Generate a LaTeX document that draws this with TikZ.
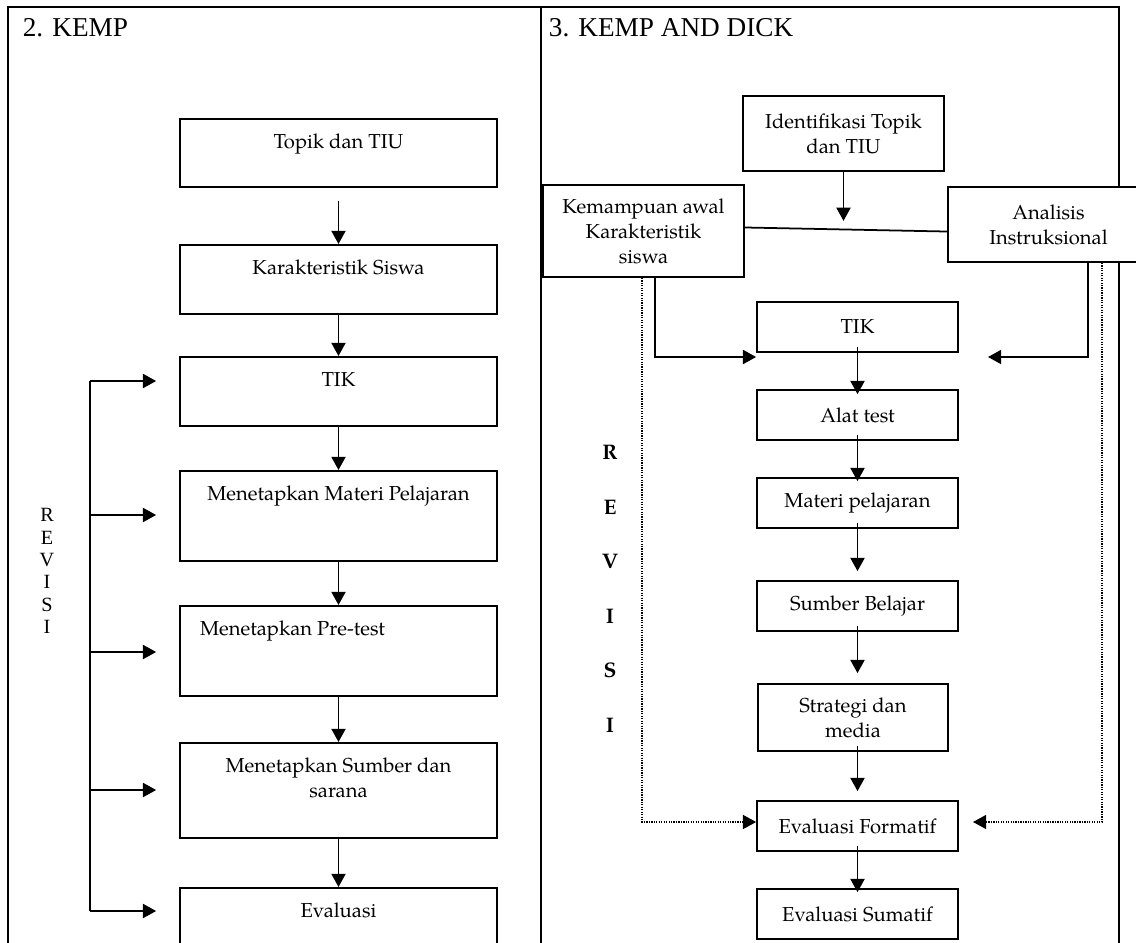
\documentclass[tikz,border=0pt]{standalone}
\usepackage{fontspec}
\setmainfont{TeX Gyre Pagella}
\newfontfamily\timesfont{Liberation Serif}
\usetikzlibrary{arrows.meta,calc}

\newcommand{\boxfont}{\fontsize{11.5}{14.2}\selectfont}

\tikzset{
	lbox/.style={draw, fill=white, inner sep=0pt, anchor=north, font=\boxfont,
		execute at begin node={\begin{minipage}[c][#1][t]{6.34cm}\centering\vspace*{0.25cm}\strut},
		execute at end node={\end{minipage}}},
	rbox/.style={draw, fill=white, inner sep=0pt, align=center, font=\boxfont,
		minimum width=4.02cm, minimum height=1cm},
	headtext/.style={anchor=base west, inner sep=0pt,
		font={\timesfont\fontsize{15.5}{18}\selectfont}},
	tabline/.style={line width=1.1pt},
	fback/.style={dash pattern=on 0.7pt off 0.7pt, line width=0.7pt},
}

\begin{document}
\begin{tikzpicture}[x=0.02cm, y=-0.02cm, line width=1pt,
		>={Triangle[length=7.5pt,width=8pt]}]
	\useasboundingbox (0,0) rectangle (1136,943);
	\clip (0,0) rectangle (1136,943);

	\draw[tabline] (8,943) -- (8,7) -- (1119,7) -- (1119,943);
	\draw[tabline] (541,7) -- (541,943);

	\node[headtext] (kemp) at (22,36) {2. KEMP};
	\node[headtext] (dick) at (548,36) {3. KEMP AND DICK};

	\node[lbox=1.36cm] (topik) at (338.5,118) {Topik dan TIU};
	\node[lbox=1.38cm] (kar) at (338.5,244) {Karakteristik Siswa};
	\node[lbox=1.38cm] (tikl) at (338.5,356) {TIK};
	\node[lbox=1.8cm] (materi) at (338.5,470) {Menetapkan Materi Pelajaran};
	\node[lbox=1.8cm] (pretest) at (338.5,605)
		{\makebox[\linewidth][l]{\hspace{0.4cm}Menetapkan Pre-test}};
	\node[lbox=1.9cm] (sumber) at (338.5,742) {Menetapkan Sumber dan\\ sarana};
	\node[lbox=1.6cm] (eval) at (338.5,887) {Evaluasi};

	\draw[->] ([yshift=-0.26cm]topik.south) -- (kar.north);
	\foreach \a/\b in {kar/tikl, tikl/materi, materi/pretest, pretest/sumber, sumber/eval}
		\draw[->] (\a.south) -- (\b.north);

	\node[font={\timesfont\fontsize{11.5}{12.7}\selectfont}, align=center,
		inner sep=0pt] (revl) at (47,571) {R\\E\\V\\I\\S\\I};

	\coordinate (rtop) at ($(tikl.north west)+(-89,25)$);
	\coordinate (rbot) at ($(eval.north west)+(-89,24)$);
	\draw (rtop) -- (rbot);
	\foreach \b/\d in {tikl/25, materi/45, pretest/47, sumber/48, eval/24}
		\draw[->] ($(\b.north west)+(-89,\d)$) -- ($(\b.north west)+(-23,\d)$);

	\node[rbox, minimum height=1.5cm] (ident) at (843.5,133.5) {Identifikasi Topik\\dan TIU};
	\node[rbox, minimum height=1.84cm] (kemam) at (643.5,231) {Kemampuan awal\\Karakteristik\\siswa};
	\node[rbox, minimum height=1.5cm] (analisis) at (1048.5,224.5) {Analisis\\Instruksional};
	\node[rbox] (tikr) at (857.5,327) {TIK};
	\node[rbox] (alat) at (857.5,415) {Alat test};
	\node[rbox] (matr) at (857.5,503) {Materi pelajaran};
	\node[rbox] (sumr) at (857.5,606) {Sumber Belajar};
	\node[rbox, minimum width=3.8cm, minimum height=1.34cm] (strat) at (853,717.5) {Strategi dan\\media};
	\node[rbox] (evf) at (857.5,826) {Evaluasi Formatif};
	\node[rbox] (evs) at (857.5,914) {Evaluasi Sumatif};

	\node[font=\fontsize{12}{31}\selectfont\bfseries, align=center,
		inner sep=0pt] (revr) at (610,589) {R\\E\\V\\I\\S\\I};

	\coordinate (idtip) at ($(ident.south)+(0,49)$);
	\draw[->] (ident.south) -- (idtip);
	\draw ([yshift=2pt]kemam.east) -- ([yshift=-4pt]analisis.west);

	\coordinate (kt) at (655,357);
	\draw[->] (kemam.south -| kt) |- (tikr.west |- kt);
	\coordinate (at) at (1088,357);
	\coordinate (atip) at (988,357);
	\draw[->] (analisis.south -| at) |- (atip);

	\foreach \a/\b/\g in {tikr/alat/5, alat/matr/4, matr/sumr/-9, sumr/strat/-10, strat/evf/-9, evf/evs/4}
		\draw[->] ($(\a.south -| evf)+(0,-6)$) -- ($(\b.north -| evf)+(0,\g)$);

	\coordinate (dl) at (642,822);
	\coordinate (dr) at (1102,822);
	\coordinate (drtip) at (973,822);
	\draw[->, fback] (kemam.south -| dl) |- (evf.west |- dl);
	\draw[->, fback] (analisis.south -| dr) |- (drtip);
\end{tikzpicture}
\end{document}
